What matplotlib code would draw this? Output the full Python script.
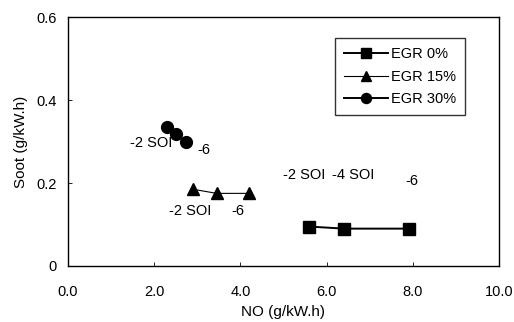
import matplotlib.pyplot as plt

plt.rcParams['font.family'] = ['Liberation Sans', 'DejaVu Sans']

# NO vs soot at SOI -2, -4, -6 for each EGR rate
no_egr0 = [5.6, 6.4, 7.9]
soot_egr0 = [0.095, 0.09, 0.09]
no_egr15 = [2.9, 3.45, 4.2]
soot_egr15 = [0.185, 0.175, 0.175]
no_egr30 = [2.3, 2.5, 2.75]
soot_egr30 = [0.335, 0.318, 0.298]

x_ticks = [0, 2, 4, 6, 8, 10]
x_ticklabels = ['0.0', '2.0', '4.0', '6.0', '8.0', '10.0']
y_ticks = [0, 0.2, 0.4, 0.6]
y_ticklabels = ['0', '0.2', '0.4', '0.6']

fig = plt.figure(figsize=(5.14, 3.22), dpi=100)
ax = fig.add_axes([0.132, 0.174, 0.839, 0.773])

ax.plot(no_egr0, soot_egr0, 'k-', marker='s', markersize=8, lw=1.4, label='EGR 0%', zorder=3)
ax.plot(no_egr15, soot_egr15, 'k-', marker='^', markersize=8, lw=0.8, label='EGR 15%', zorder=3)
ax.plot(no_egr30, soot_egr30, 'k-', marker='o', markersize=8.5, lw=1.4, label='EGR 30%', zorder=3)

fs = 10.5
# SOI labels sit behind the markers
ax.text(2.42, 0.296, '-2 SOI', ha='right', va='center', fontsize=fs, zorder=1)
ax.text(3.0, 0.28, '-6', ha='left', va='center', fontsize=fs)
ax.text(2.83, 0.133, '-2 SOI', ha='center', va='center', fontsize=fs)
ax.text(3.95, 0.133, '-6', ha='center', va='center', fontsize=fs)
ax.text(5.48, 0.219, '-2 SOI', ha='center', va='center', fontsize=fs)
ax.text(6.61, 0.219, '-4 SOI', ha='center', va='center', fontsize=fs)
ax.text(7.98, 0.205, '-6', ha='center', va='center', fontsize=fs)

ax.set_xlim(0, 10)
ax.set_ylim(0, 0.6)
ax.set_xticks(x_ticks)
ax.set_xticklabels(x_ticklabels, fontsize=fs)
ax.set_yticks(y_ticks)
ax.set_yticklabels(y_ticklabels, fontsize=fs)
ax.tick_params(direction='in', length=3, width=0.6, pad=14)
ax.tick_params(axis='y', pad=8)
for s in ax.spines.values():
    s.set_linewidth(1.0)

ax.set_xlabel('NO (g/kW.h)', fontsize=11, labelpad=4)
ax.set_ylabel('Soot (g/kW.h)', fontsize=11, labelpad=6)

leg = ax.legend(loc='upper left', bbox_to_anchor=(0.62, 0.915), fontsize=fs,
                frameon=True, fancybox=False, edgecolor='black', handlelength=3.0,
                handletextpad=0.2, borderpad=0.6, labelspacing=0.6, markerscale=0.85,
                borderaxespad=0)
leg.get_frame().set_linewidth(1.0)

fig.savefig('out.png', dpi=100)
